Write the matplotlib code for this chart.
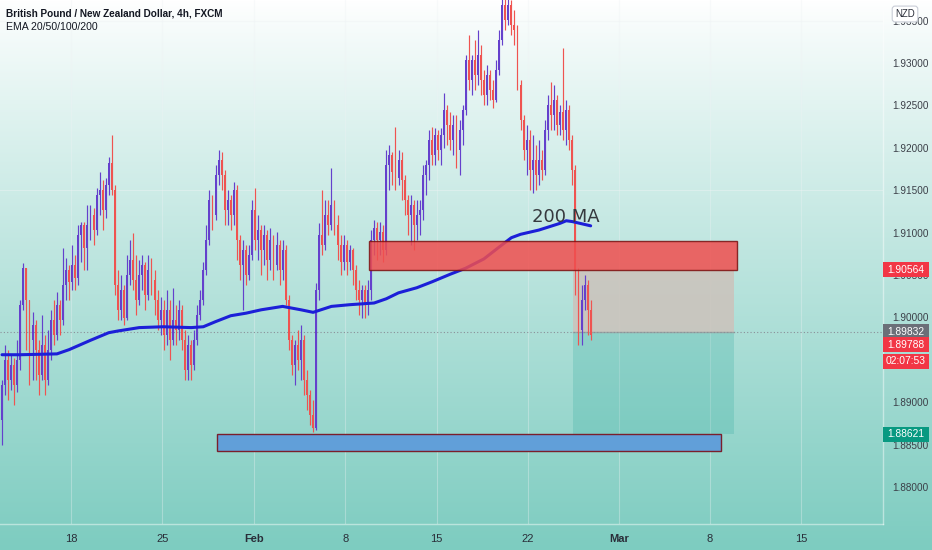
import numpy as np
import matplotlib
matplotlib.use('Agg')
import matplotlib.pyplot as plt
import matplotlib.transforms as mtransforms
from matplotlib.patches import Rectangle

plt.rcParams['font.family'] = ['Liberation Sans Narrow', 'Liberation Sans', 'DejaVu Sans']

# GBPNZD 4h candles (one entry per bar)
first_open = 1.8879
closes = [
    1.8920, 1.8950, 1.8926, 1.8944, 1.8920, 1.8950, 1.9015, 1.9058, 1.9021, 1.8973,
    1.8991, 1.8962, 1.8932, 1.8967, 1.8926, 1.8962, 1.8997, 1.8979, 1.9015, 1.8997,
    1.9038, 1.9056, 1.9042, 1.9062, 1.9046, 1.9097, 1.9109, 1.9082, 1.9109, 1.9121,
    1.9103, 1.9144, 1.9150, 1.9127, 1.9156, 1.9182, 1.9150, 1.9038, 1.9009, 1.9032,
    1.8999, 1.9050, 1.9068, 1.9044, 1.9021, 1.9050, 1.9062, 1.9026, 1.9056, 1.9044,
    1.9021, 1.8997, 1.9009, 1.8979, 1.9009, 1.8973, 1.8997, 1.8985, 1.9009, 1.8973,
    1.8938, 1.8967, 1.8944, 1.8973, 1.9003, 1.9021, 1.9056, 1.9091, 1.9138, 1.9121,
    1.9168, 1.9186, 1.9168, 1.9127, 1.9138, 1.9121, 1.9150, 1.9091, 1.9062, 1.9079,
    1.9050, 1.9074, 1.9127, 1.9091, 1.9103, 1.9079, 1.9097, 1.9068, 1.9091, 1.9062,
    1.9085, 1.9056, 1.9079, 1.9021, 1.8973, 1.8944, 1.8967, 1.8950, 1.8973, 1.8926,
    1.8908, 1.8885, 1.8870, 1.9032, 1.9097, 1.9085, 1.9121, 1.9109, 1.9132, 1.9109,
    1.9085, 1.9065, 1.9085, 1.9065, 1.9079, 1.9056, 1.9032, 1.9021, 1.9032, 1.9015,
    1.9032, 1.9091, 1.9105, 1.9091, 1.9101, 1.9079, 1.9180, 1.9192, 1.9172, 1.9164,
    1.9186, 1.9162, 1.9138, 1.9121, 1.9132, 1.9109, 1.9121, 1.9127, 1.9168, 1.9180,
    1.9209, 1.9192, 1.9215, 1.9197, 1.9215, 1.9245, 1.9227, 1.9209, 1.9227, 1.9197,
    1.9221, 1.9245, 1.9304, 1.9280, 1.9304, 1.9286, 1.9309, 1.9280, 1.9262, 1.9286,
    1.9268, 1.9256, 1.9292, 1.9327, 1.9368, 1.9351, 1.9368, 1.9345, 1.9339, 1.9274,
    1.9233, 1.9197, 1.9209, 1.9174, 1.9186, 1.9168, 1.9186, 1.9174, 1.9221, 1.9250,
    1.9239, 1.9256, 1.9227, 1.9242, 1.9221, 1.9245, 1.9209, 1.9174, 1.9056, 1.8985,
    1.9021, 1.9038, 1.9009, 1.89788,
]
highs = [
    1.8926, 1.8967, 1.8962, 1.8956, 1.8952, 1.8973, 1.9021, 1.9064, 1.9058, 1.9021,
    1.9006, 1.8997, 1.8973, 1.9003, 1.8979, 1.8985, 1.9009, 1.9021, 1.9030, 1.9021,
    1.9082, 1.9070, 1.9062, 1.9085, 1.9074, 1.9109, 1.9113, 1.9113, 1.9132, 1.9132,
    1.9129, 1.9153, 1.9172, 1.9162, 1.9164, 1.9189, 1.9215, 1.9156, 1.9056, 1.9050,
    1.9038, 1.9074, 1.9091, 1.9100, 1.9074, 1.9068, 1.9074, 1.9065, 1.9074, 1.9070,
    1.9056, 1.9032, 1.9024, 1.9021, 1.9032, 1.9021, 1.9035, 1.9015, 1.9021, 1.9015,
    1.8985, 1.8979, 1.8973, 1.8985, 1.9015, 1.9032, 1.9065, 1.9109, 1.9150, 1.9144,
    1.9180, 1.9197, 1.9195, 1.9174, 1.9150, 1.9144, 1.9160, 1.9156, 1.9097, 1.9091,
    1.9085, 1.9085, 1.9138, 1.9153, 1.9121, 1.9109, 1.9109, 1.9103, 1.9105, 1.9097,
    1.9101, 1.9091, 1.9091, 1.9085, 1.9026, 1.8979, 1.8973, 1.8985, 1.8991, 1.8979,
    1.8938, 1.8914, 1.8903, 1.9041, 1.9111, 1.9150, 1.9138, 1.9138, 1.9176, 1.9138,
    1.9121, 1.9097, 1.9097, 1.9091, 1.9085, 1.9082, 1.9062, 1.9044, 1.9038, 1.9038,
    1.9044, 1.9103, 1.9115, 1.9113, 1.9113, 1.9109, 1.9197, 1.9203, 1.9195, 1.9225,
    1.9197, 1.9195, 1.9168, 1.9144, 1.9144, 1.9138, 1.9138, 1.9138, 1.9180, 1.9186,
    1.9221, 1.9225, 1.9223, 1.9221, 1.9223, 1.9265, 1.9250, 1.9242, 1.9239, 1.9239,
    1.9233, 1.9250, 1.9309, 1.9333, 1.9309, 1.9327, 1.9339, 1.9321, 1.9292, 1.9298,
    1.9292, 1.9280, 1.9304, 1.9339, 1.9386, 1.9380, 1.9386, 1.9374, 1.9363, 1.9345,
    1.9280, 1.9239, 1.9227, 1.9221, 1.9215, 1.9203, 1.9209, 1.9197, 1.9233, 1.9262,
    1.9278, 1.9274, 1.9262, 1.9250, 1.9318, 1.9256, 1.9250, 1.9215, 1.9180, 1.9058,
    1.9038, 1.9050, 1.9044, 1.9021,
]
lows = [
    1.8850, 1.8908, 1.8903, 1.8914, 1.8897, 1.8912, 1.8938, 1.9009, 1.8962, 1.8920,
    1.8926, 1.8926, 1.8908, 1.8926, 1.8908, 1.8920, 1.8950, 1.8967, 1.8973, 1.8979,
    1.8991, 1.9021, 1.9021, 1.9032, 1.9032, 1.9038, 1.9065, 1.9056, 1.9056, 1.9091,
    1.9085, 1.9097, 1.9121, 1.9103, 1.9117, 1.9144, 1.9144, 1.9026, 1.8997, 1.8997,
    1.8991, 1.8997, 1.9038, 1.9032, 1.9003, 1.9015, 1.9032, 1.9009, 1.9021, 1.9026,
    1.9003, 1.8985, 1.8979, 1.8962, 1.8967, 1.8950, 1.8967, 1.8967, 1.8973, 1.8962,
    1.8926, 1.8926, 1.8926, 1.8938, 1.8967, 1.8997, 1.9015, 1.9050, 1.9085, 1.9103,
    1.9115, 1.9156, 1.9150, 1.9109, 1.9109, 1.9103, 1.9109, 1.9068, 1.9044, 1.9009,
    1.9038, 1.9044, 1.9068, 1.9079, 1.9068, 1.9050, 1.9062, 1.9044, 1.9056, 1.9044,
    1.9056, 1.9038, 1.9044, 1.9015, 1.8962, 1.8932, 1.8920, 1.8938, 1.8926, 1.8908,
    1.8891, 1.8873, 1.8865, 1.8867, 1.9021, 1.9074, 1.9079, 1.9097, 1.9103, 1.9097,
    1.9068, 1.9050, 1.9056, 1.9050, 1.9056, 1.9038, 1.9021, 1.9003, 1.8999, 1.8999,
    1.9003, 1.9021, 1.9074, 1.9068, 1.9074, 1.9065, 1.9074, 1.9150, 1.9156, 1.9150,
    1.9156, 1.9138, 1.9121, 1.9097, 1.9085, 1.9079, 1.9091, 1.9097, 1.9115, 1.9144,
    1.9162, 1.9180, 1.9180, 1.9186, 1.9180, 1.9200, 1.9203, 1.9197, 1.9192, 1.9176,
    1.9168, 1.9203, 1.9239, 1.9268, 1.9262, 1.9268, 1.9274, 1.9262, 1.9250, 1.9250,
    1.9256, 1.9247, 1.9254, 1.9286, 1.9321, 1.9339, 1.9345, 1.9333, 1.9321, 1.9268,
    1.9221, 1.9186, 1.9168, 1.9150, 1.9147, 1.9150, 1.9156, 1.9162, 1.9168, 1.9209,
    1.9221, 1.9221, 1.9215, 1.9215, 1.9209, 1.9203, 1.9197, 1.9156, 1.9026, 1.8967,
    1.8967, 1.9009, 1.8979, 1.8973,
]

# EMA 200 read at some bars
ema_bars = [0, 6, 18, 22, 29, 35, 38, 45, 53, 62, 66, 70, 75, 80, 85, 92, 98, 102,
            108, 114, 122, 126, 130, 136, 141, 147, 152, 158, 163, 167, 170, 176,
            183, 185, 187, 193]
ema_vals = [1.8956, 1.8956, 1.8957, 1.8962, 1.8973, 1.8982, 1.8984, 1.8988, 1.8989,
            1.8988, 1.8989, 1.8995, 1.9002, 1.9005, 1.9009, 1.9013, 1.9009, 1.9006,
            1.9013, 1.9015, 1.9017, 1.9022, 1.9029, 1.9035, 1.9042, 1.9051, 1.9058,
            1.9069, 1.9083, 1.9094, 1.9098, 1.9103, 1.9111, 1.9114, 1.9113, 1.9108]

date_labels = ['18', '25', 'Feb', '8', '15', '22', 'Mar', '8', '15']
date_bars = [22.6, 52.5, 82.5, 112.5, 142.5, 172.3, 202.2, 232.0, 262.0]
# 1.895 sits fully under the last-price labels, so it is not shown
price_ticks = [1.880, 1.885, 1.890, 1.900, 1.905, 1.910, 1.915, 1.920, 1.925, 1.930, 1.935]
grid_prices = [1.915, 1.935]

# drawn zones: (bar from, bar to, price low, price high)
supply_zone = (120.3, 241.0, 1.90564, 1.9090)
demand_zone = (70.5, 235.7, 1.8843, 1.88621)
entry_price = 1.89832
stop_price = 1.90564
target_price = 1.88621
position_bars = (187.2, 240.0)
last_price = 1.89788

UP = '#6440cc'
DOWN = '#ef5350'

opens = np.array([first_open] + closes[:-1])
closes = np.array(closes)
highs = np.array(highs)
lows = np.array(lows)
bars = np.arange(len(closes))

fig = plt.figure(figsize=(9.32, 5.5), dpi=100)

# background gradient white -> teal
bg = fig.add_axes([0, 0, 1, 1], zorder=0)
t = np.linspace(0, 1, 550)[:, None, None]
top = np.array([1.0, 1.0, 1.0])
bottom = np.array([0x7d, 0xcc, 0xc0]) / 255
bg.imshow(top + (bottom - top) * t ** 0.9, aspect='auto', extent=[0, 1, 0, 1])
bg.axis('off')

ax = fig.add_axes([0, 26 / 550, 883 / 932, 524 / 550], zorder=1)
ax.set_facecolor('none')
ax.set_xlim(-0.66, 288.85)
ax.set_ylim(1.87564, 1.93743)

ax.set_yticks(price_ticks)
ax.set_yticklabels(['%.5f' % p for p in price_ticks])
ax.yaxis.tick_right()
ax.tick_params(axis='y', length=0, pad=7, labelsize=7.2, labelcolor='#3b3f48')
ax.set_xticks(date_bars)
ax.set_xticklabels(date_labels)
ax.tick_params(axis='x', length=0, pad=7, labelsize=8, labelcolor='#2a2e39')
for lbl in ax.get_xticklabels():
    if lbl.get_text() in ('Feb', 'Mar'):
        lbl.set_fontweight('bold')

# faint grid
for xb in date_bars:
    ax.axvline(xb, color='#eef2f4', alpha=0.35, lw=0.8, zorder=1)
for gp in grid_prices:
    ax.axhline(gp, color='#eef2f4', alpha=0.45, lw=0.8, zorder=1)
for s in ('top', 'left'):
    ax.spines[s].set_visible(False)
for s in ('right', 'bottom'):
    ax.spines[s].set_color((1, 1, 1, 0.45))
    ax.spines[s].set_linewidth(1)

# position tool (risk / reward)
x0, x1 = position_bars
ax.add_patch(Rectangle((x0, entry_price), x1 - x0, stop_price - entry_price,
                       facecolor='#cbc4bd', edgecolor='none', alpha=0.9, zorder=2))
ax.add_patch(Rectangle((x0, target_price), x1 - x0, entry_price - target_price,
                       facecolor='#26a69a', edgecolor='none', alpha=0.22, zorder=2))
ax.plot([x0, x1], [entry_price, entry_price], color='#9aa7a4', lw=1, zorder=2)
ax.axhline(entry_price, color='#8a8f99', lw=0.8, ls=(0, (1, 2)), zorder=2)

# candles
colors = np.where(closes >= opens, UP, DOWN)
ax.vlines(bars, lows, highs, colors=colors, lw=0.85, zorder=3)
body = np.maximum(np.abs(closes - opens), 0.00008)
ax.bar(bars, body, bottom=np.minimum(opens, closes), width=0.62, color=colors,
       linewidth=0, zorder=3)

# EMA 200
ax.plot(ema_bars, ema_vals, color='#1c1fd8', lw=2.2, zorder=4, solid_capstyle='round')
ax.text(185, 1.9118, '200 MA', fontsize=13, color='#36393e', ha='center', va='center',
        family='DejaVu Sans', zorder=6)

# zones
ax.add_patch(Rectangle((supply_zone[0], supply_zone[2]), supply_zone[1] - supply_zone[0],
                       supply_zone[3] - supply_zone[2], facecolor='#f04f4f', alpha=0.85,
                       edgecolor='#7a1010', lw=1, zorder=5))
ax.add_patch(Rectangle((demand_zone[0], demand_zone[2]), demand_zone[1] - demand_zone[0],
                       demand_zone[3] - demand_zone[2], facecolor='#619fd9',
                       edgecolor='#7b1e2b', lw=1, zorder=5))

# price labels on the right scale
trans = mtransforms.blended_transform_factory(ax.transAxes, ax.transData)
lab_w = 46 / 883
lab_h = 15 / 8480
price_labels = [
    ('%.5f' % stop_price, stop_price, '#f23645'),
    ('%.5f' % entry_price, entry_price, '#6b6f78'),
    ('%.5f' % last_price, 1.89675, '#f23645'),
    ('02:07:53', 1.89486, '#f23645'),
    ('%.5f' % target_price, target_price, '#089981'),
]
for txt, yc, col in price_labels:
    ax.add_patch(Rectangle((1.0, yc - lab_h / 2), lab_w, lab_h, transform=trans,
                           facecolor=col, edgecolor='none', clip_on=False, zorder=7))
    ax.text(1.0 + lab_w / 2, yc, txt, transform=trans, ha='center', va='center',
            fontsize=7.4, color='white', clip_on=False, zorder=8)

fig.text(905 / 932, 1 - 14 / 550, 'NZD', ha='center', va='center', fontsize=7,
         color='#2a2e39', zorder=5,
         bbox=dict(boxstyle='round,pad=0.3', facecolor='white', edgecolor='#c9cdd6', lw=0.8))

fig.text(6 / 932, 1 - 13 / 550, 'British Pound / New Zealand Dollar, 4h, FXCM',
         fontsize=7.2, fontweight='bold', color='#131722', va='center', zorder=5)
fig.text(6 / 932, 1 - 27 / 550, 'EMA 20/50/100/200', fontsize=7.6, color='#131722',
         va='center', zorder=5)

fig.savefig('out.png', dpi=100)
